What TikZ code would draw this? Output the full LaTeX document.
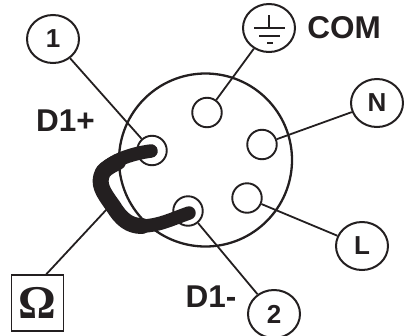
\documentclass[tikz,border=0pt]{standalone}
\usepackage{fontspec}
\setmainfont{Liberation Sans}
\newfontfamily\omegafont{Liberation Serif}
\usetikzlibrary{shapes.geometric}
\definecolor{ink}{HTML}{231F20}
\tikzset{
  x=1pt,y=-1pt,
  callout/.style={draw=ink,line width=2pt,ellipse,inner sep=0pt,minimum width=52pt,minimum height=48pt,text=ink,font=\bfseries\fontsize{26}{26}\selectfont},
  pin/.style={draw=ink,line width=1.9pt,circle,inner sep=0pt,minimum size=29.5pt},
  lead/.style={draw=ink,line width=1.8pt},
  biglabel/.style={text=ink,inner sep=0pt,font=\bfseries\fontsize{31.5}{31.5}\selectfont},
  gnd/.style={draw=ink,line width=1.7pt}
}
\begin{document}
\begin{tikzpicture}
\useasboundingbox (0,0) rectangle (404,335);
\node[draw=ink,line width=2.3pt,circle,inner sep=0pt,minimum size=173pt] (body) at (205.5,160) {};
\node[pin] (p1) at (152,150.5) {};
\node[pin] (pcom) at (207,112.5) {};
\node[pin] (pn) at (262,144.5) {};
\node[pin] (pl) at (247,198) {};
\node[pin] (p2) at (188,211) {};
\node[callout] (c1) at (53,39) {1};
\node[callout] (ccom) at (269,28) {};
\node[callout] (cn) at (377,103) {N};
\node[callout] (cl) at (362,246) {L};
\node[callout] (c2) at (274,314) {2};
\node[draw=ink,line width=1.5pt,minimum width=52pt,minimum height=56pt,inner sep=0pt,text=ink,font=\omegafont\bfseries\fontsize{47}{47}\selectfont] (omega) at (37.5,303) {Ω};
\node[biglabel] (lcom) at (344,28) {COM};
\node[biglabel] (ldp) at (65.5,121) {D1+};
\node[biglabel] (ldm) at (211,297) {D1-};
\coordinate (wirepoint) at (107,209);
\draw[lead] (c1) -- (p1);
\draw[lead] (ccom) -- (pcom);
\draw[lead] (cn) -- (pn);
\draw[lead] (cl) -- (pl);
\draw[lead] (c2) -- (p2);
\draw[lead] (omega.73) -- (wirepoint);
\draw[gnd] (269,15) -- (269,28);
\draw[gnd] (254,28) -- (285,28);
\draw[gnd] (259,36) -- (280,36);
\draw[gnd,line width=2pt] (267,43) -- (273,43);
\draw[ink,line width=13.5pt,line cap=round,line join=round]
  (151,151) .. controls (135,153) and (110,160) .. (103,172)
  .. controls (97,184) and (103,192) .. (113,206)
  .. controls (121,219) and (129,226) .. (142,226)
  .. controls (158,226) and (172,219) .. (189,213);
\draw[ink,line width=16pt,line cap=round,line join=round]
  (118,162) .. controls (112,165) and (106,168) .. (103,172)
  .. controls (97,184) and (103,192) .. (113,206)
  .. controls (121,219) and (129,226) .. (142,226);
\end{tikzpicture}
\end{document}
